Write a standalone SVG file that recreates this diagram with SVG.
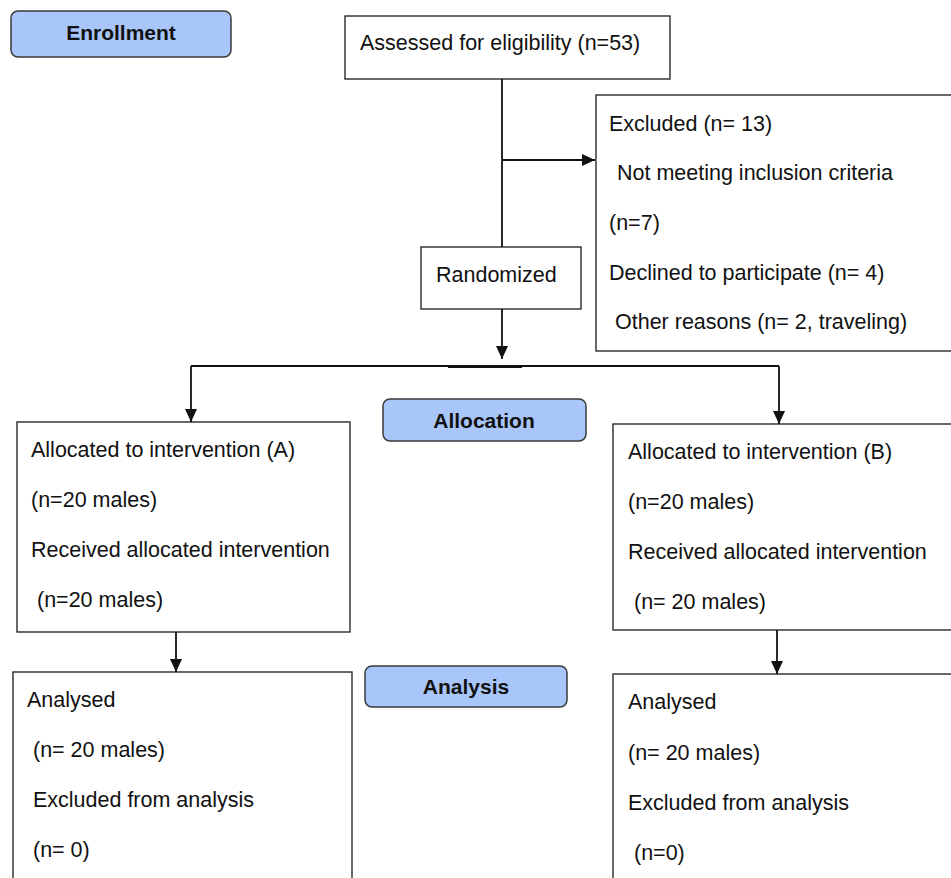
<svg xmlns="http://www.w3.org/2000/svg" width="951" height="878" viewBox="0 0 951 878">
<style>
.box{fill:#fff;stroke:#2a2a2a;stroke-width:1.4}
.lbl{fill:#a9c6fa;stroke:#3a3a3a;stroke-width:1.5}
.t{font-family:"Liberation Sans",Arial,sans-serif;font-size:21.5px;fill:#111}
.b{font-family:"Liberation Sans",Arial,sans-serif;font-size:21px;font-weight:bold;fill:#111;text-anchor:middle}
.c{fill:none;stroke:#111;stroke-width:1.8}
</style>
<defs>
<marker id="ah" viewBox="0 0 13 12" refX="13" refY="6" markerWidth="13" markerHeight="12" markerUnits="userSpaceOnUse" orient="auto">
<path d="M0,0 L13,6 L0,12 Z" fill="#111"/>
</marker>
</defs>
<rect width="951" height="878" fill="#fff"/>
<g id="enrollment">
<rect class="lbl" x="11" y="11" width="220" height="46" rx="7"/>
<text class="b" x="121" y="40">Enrollment</text>
</g>
<g id="assessed">
<rect class="box" x="345" y="16" width="325" height="63"/>
<text class="t" x="360" y="50">Assessed for eligibility (n=53)</text>
</g>
<g id="excluded">
<rect class="box" x="596" y="95" width="360" height="256"/>
<text class="t" x="609" y="131">Excluded (n= 13)</text>
<text class="t" x="611" y="180" xml:space="preserve"> Not meeting inclusion criteria</text>
<text class="t" x="609" y="230">(n=7)</text>
<text class="t" x="609" y="280">Declined to participate (n= 4)</text>
<text class="t" x="609" y="329" xml:space="preserve"> Other reasons (n= 2, traveling)</text>
</g>
<g id="randomized">
<rect class="box" x="421" y="247" width="160" height="62"/>
<text class="t" x="436" y="282">Randomized</text>
</g>
<g id="allocation">
<rect class="lbl" x="383" y="399" width="203" height="42" rx="7"/>
<text class="b" x="484" y="428">Allocation</text>
</g>
<g id="allocA">
<rect class="box" x="17" y="422" width="333" height="210"/>
<text class="t" x="31" y="457">Allocated to intervention (A)</text>
<text class="t" x="31" y="507">(n=20 males)</text>
<text class="t" x="31" y="557">Received allocated intervention</text>
<text class="t" x="31" y="607" xml:space="preserve"> (n=20 males)</text>
</g>
<g id="allocB">
<rect class="box" x="613" y="424" width="345" height="206"/>
<text class="t" x="628" y="459">Allocated to intervention (B)</text>
<text class="t" x="628" y="509">(n=20 males)</text>
<text class="t" x="628" y="559">Received allocated intervention</text>
<text class="t" x="628" y="609" xml:space="preserve"> (n= 20 males)</text>
</g>
<g id="analysis">
<rect class="lbl" x="365" y="666" width="202" height="41" rx="7"/>
<text class="b" x="466" y="694">Analysis</text>
</g>
<g id="analysedA">
<rect class="box" x="13" y="672" width="339" height="212"/>
<text class="t" x="27" y="707">Analysed</text>
<text class="t" x="27" y="757" xml:space="preserve"> (n= 20 males)</text>
<text class="t" x="27" y="807" xml:space="preserve"> Excluded from analysis</text>
<text class="t" x="27" y="857" xml:space="preserve"> (n= 0)</text>
</g>
<g id="analysedB">
<rect class="box" x="613" y="674" width="345" height="210"/>
<text class="t" x="628" y="709">Analysed</text>
<text class="t" x="628" y="760">(n= 20 males)</text>
<text class="t" x="628" y="810">Excluded from analysis</text>
<text class="t" x="628" y="860" xml:space="preserve"> (n=0)</text>
</g>
<g id="connectors">
<path class="c" d="M502,79 V247"/>
<path class="c" d="M502,160 H595" marker-end="url(#ah)"/>
<path class="c" d="M502,309 V359" marker-end="url(#ah)"/>
<path class="c" d="M191,366 H779"/>
<path class="c" d="M448,366.6 H522" style="stroke-width:2.6"/>
<path class="c" d="M191,366 V422" marker-end="url(#ah)"/>
<path class="c" d="M779,366 V424" marker-end="url(#ah)"/>
<path class="c" d="M176,632 V672" marker-end="url(#ah)"/>
<path class="c" d="M777,630 V674" marker-end="url(#ah)"/>
</g>
</svg>
